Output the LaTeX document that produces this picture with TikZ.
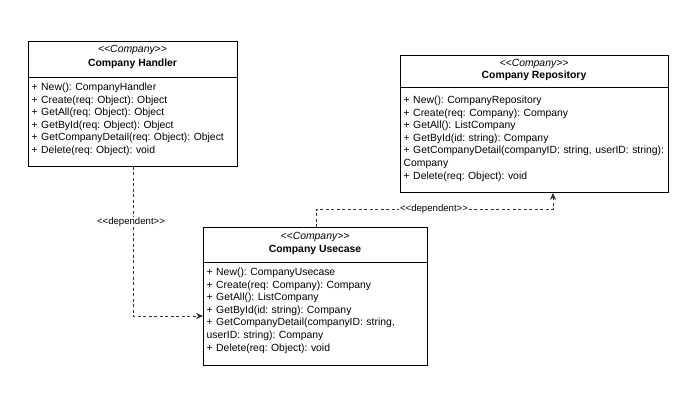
\documentclass[tikz,border=0pt]{standalone}
\usepackage{fontspec}
\setmainfont{Liberation Sans}
\usetikzlibrary{arrows.meta}
\newcommand\dlt{<\kern0pt<}
\newcommand\dgt{>\kern0pt>}
\frenchspacing
\begin{document}
\begin{tikzpicture}[x=1pt,y=-1pt,
  classbox/.style={draw=black, line width=0.9pt, anchor=north west, inner sep=0pt},
  sepline/.style={draw=black, line width=0.9pt},
  members/.style={anchor=base west, inner sep=0pt, align=left, text width=300pt,
    font=\fontsize{10.4}{12.55}\selectfont\frenchspacing},
  stereo/.style={anchor=base, inner sep=0pt, font=\fontsize{10.4}{12}\selectfont\itshape},
  ctitle/.style={anchor=base, inner sep=0pt, font=\fontsize{10.4}{12}\selectfont\bfseries},
  dep/.style={draw=black!80, line width=0.9pt, dash pattern=on 3pt off 2.5pt,
    -{Stealth[length=7pt,width=6pt]}},
  lbl/.style={fill=white, inner sep=1pt, font=\fontsize{9.6}{11}\selectfont}]
\useasboundingbox[fill=white] (0,0) rectangle (698,401);

% Company Handler
\node[classbox, minimum width=209pt, minimum height=125pt] (handler) at (28,41) {};
\draw[sepline] (handler.west |- 0,77) -- (handler.east |- 0,77);
\node[stereo] (hstereo) at (132.5,52.5) {\dlt Company\dgt};
\node[ctitle] (htitle) at (132.5,66.7) {Company Handler};
\node[members] (hmembers) at (31.5,90.7) {+ New(): CompanyHandler\\
+ Create(req: Object): Object\\
+ GetAll(req: Object): Object\\
+ GetById(req: Object): Object\\
+ GetCompanyDetail(req: Object): Object\\
+ Delete(req: Object): void};

% Company Repository
\node[classbox, minimum width=268pt, minimum height=137pt] (repo) at (400,55) {};
\draw[sepline] (repo.west |- 0,87) -- (repo.east |- 0,87);
\node[stereo] (rstereo) at (534,66.5) {\dlt Company\dgt};
\node[ctitle] (rtitle) at (534,78.7) {Company Repository};
\node[members] (rmembers) at (403.5,103.7) {+ New(): CompanyRepository\\
+ Create(req: Company): Company\\
+ GetAll(): ListCompany\\
+ GetById(id: string): Company\\
+ GetCompanyDetail(companyID: string, userID: string):\\
Company\\
+ Delete(req: Object): void};

% Company Usecase
\node[classbox, minimum width=224pt, minimum height=138pt] (usecase) at (203,227) {};
\draw[sepline] (usecase.west |- 0,262) -- (usecase.east |- 0,262);
\node[stereo] (ustereo) at (315,239.5) {\dlt Company\dgt};
\node[ctitle] (utitle) at (315,252.7) {Company Usecase};
\node[members] (umembers) at (206.5,275.7) {+ New(): CompanyUsecase\\
+ Create(req: Company): Company\\
+ GetAll(): ListCompany\\
+ GetById(id: string): Company\\
+ GetCompanyDetail(companyID: string,\\
userID: string): Company\\
+ Delete(req: Object): void};

% connectors
\coordinate (c1) at (133,316);
\draw[dep] (handler.south -| c1) -- (c1) -- (usecase.west |- c1);
\node[lbl] (l1) at (131,222) {\dlt dependent\dgt};

\coordinate (c2a) at (316,209);
\coordinate (c2b) at (553,209);
\draw[dep] (usecase.north -| c2a) -- (c2a) -- (c2b) -- (repo.south -| c2b);
\node[lbl] (l2) at (434,209) {\dlt dependent\dgt};
\end{tikzpicture}
\end{document}
